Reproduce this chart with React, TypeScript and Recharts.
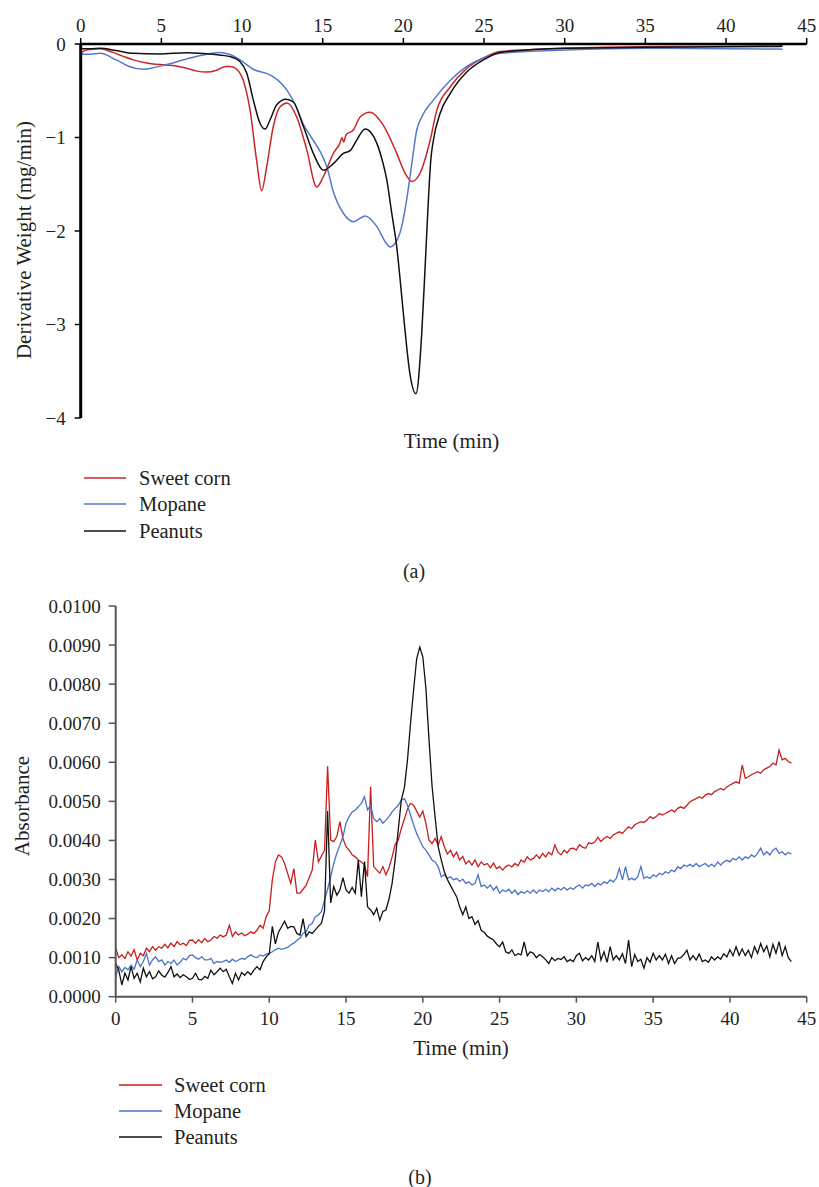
import React from 'react';
import { LineChart, Line, XAxis, YAxis } from 'recharts';

const FONT = '"Liberation Serif", "Times New Roman", serif';
const TEXT = '#231f20';

const RED_A = '#C8282A';
const BLUE_A = '#5478CC';
const BLACK = '#111111';
const RED_B = '#C81E1E';
const BLUE_B = '#4A72C6';

// ---------- Chart (a): derivative weight (mg/min) vs time (min) ----------
const A_X_TICKS = [0, 5, 10, 15, 20, 25, 30, 35, 40, 45];
const A_Y_TICKS = [-4, -3, -2, -1, 0];

const A_SWEET_T = [0, 0.05, 0.5, 1.2, 2, 2.6, 3.26, 4, 4.9, 5.7, 6.57, 7.2, 7.8, 8.43, 9.0, 9.3, 9.67, 10.08, 10.5, 10.9, 11.22, 11.53, 11.94, 12.36, 12.8, 13.39, 14.01, 14.63, 15.04, 15.66, 16.07, 16.2, 16.3, 16.45, 16.9, 17.32, 17.94, 18.76, 19.59, 20.1, 20.52, 21.04, 21.66, 22.07, 22.9, 23.93, 24.96, 26, 28, 30, 35, 40, 43.5];
const A_SWEET_V = [-0.35, -0.09, -0.06, -0.05, -0.09, -0.13, -0.17, -0.2, -0.22, -0.23, -0.26, -0.29, -0.3, -0.28, -0.24, -0.24, -0.27, -0.39, -0.71, -1.24, -1.57, -1.31, -0.88, -0.67, -0.63, -0.78, -1.13, -1.53, -1.42, -1.17, -1.06, -1.0, -1.05, -0.97, -0.92, -0.78, -0.73, -0.87, -1.17, -1.38, -1.47, -1.38, -1.03, -0.71, -0.46, -0.26, -0.15, -0.08, -0.06, -0.046, -0.03, -0.025, -0.02];

const A_MOPANE_T = [0, 0.6, 1.2, 2.2, 3.0, 3.89, 4.6, 5.33, 6.57, 7.8, 8.63, 9.2, 9.88, 10.7, 11.74, 12.3, 12.77, 13.3, 13.8, 14.3, 14.84, 15.25, 15.66, 16.28, 16.9, 17.63, 18.35, 18.97, 19.17, 19.6, 19.9, 20.2, 20.5, 20.83, 21.14, 21.86, 22.9, 23.93, 24.96, 26, 30, 35, 40, 43.5];
const A_MOPANE_V = [-0.11, -0.11, -0.1, -0.17, -0.24, -0.27, -0.25, -0.22, -0.16, -0.11, -0.09, -0.11, -0.17, -0.27, -0.33, -0.4, -0.49, -0.65, -0.86, -1.0, -1.15, -1.31, -1.58, -1.81, -1.9, -1.84, -1.95, -2.14, -2.17, -2.1, -1.95, -1.67, -1.31, -0.92, -0.78, -0.6, -0.39, -0.24, -0.15, -0.1, -0.064, -0.046, -0.05, -0.055];

const A_PEANUT_T = [0, 0.6, 1.2, 2.2, 3.26, 4.9, 6.57, 8.22, 9.26, 9.88, 10.29, 10.7, 11.12, 11.43, 11.74, 12.15, 12.73, 13.18, 13.8, 14.42, 15.04, 15.66, 16.28, 16.7, 17.1, 17.63, 18.0, 18.35, 18.7, 18.97, 19.28, 19.59, 19.8, 20.1, 20.4, 20.78, 21.14, 21.35, 21.55, 21.7, 21.86, 22.28, 22.9, 23.93, 24.96, 26, 30, 35, 40, 43.5];
const A_PEANUT_V = [-0.05, -0.05, -0.046, -0.07, -0.1, -0.107, -0.093, -0.11, -0.135, -0.19, -0.31, -0.6, -0.85, -0.91, -0.81, -0.65, -0.59, -0.62, -0.88, -1.17, -1.35, -1.28, -1.17, -1.14, -1.03, -0.91, -0.95, -1.06, -1.25, -1.45, -1.81, -2.17, -2.52, -3.06, -3.52, -3.74, -3.09, -2.38, -1.67, -1.24, -1.03, -0.74, -0.53, -0.3, -0.17, -0.09, -0.046, -0.035, -0.03, -0.025];

// ---------- Chart (b): absorbance vs time (min), sampled every 0.2 min ----------
const B_X_TICKS = [0, 5, 10, 15, 20, 25, 30, 35, 40, 45];
const B_Y_TICKS = [0, 0.001, 0.002, 0.003, 0.004, 0.005, 0.006, 0.007, 0.008, 0.009, 0.01];
const B_T_START = 0;
const B_T_STEP = 0.2;
const ABS_UNIT = 0.0001; // values below are in units of 0.0001

const B_SWEET = [
  12.4, 10.0, 10.7, 9.8, 11.5, 10.4, 12.0, 9.4, 11.1, 10.5,
  12.4, 11.5, 12.8, 11.9, 12.8, 12.4, 13.4, 12.5, 13.7, 12.8,
  14.1, 13.3, 13.7, 13.1, 14.4, 14.5, 13.7, 14.6, 13.8, 14.9,
  14.1, 14.5, 15.4, 15.0, 15.8, 15.3, 15.8, 18.3, 15.4, 16.6,
  15.8, 16.3, 15.6, 16.0, 16.6, 16.2, 17.0, 18.3, 17.5, 20.5,
  22.0, 29.9, 34.5, 36.3, 35.8, 34.1, 31.5, 29.0, 32.8, 26.5,
  26.5, 27.5, 28.5, 30.5, 32.4, 40.1, 34.5, 36.0, 37.5, 59.0,
  40.1, 39.7, 41.0, 44.8, 40.5, 38.4, 37.5, 36.3, 35.8, 35.0,
  34.5, 33.7, 30.7, 53.7, 33.3, 32.4, 31.6, 33.3, 31.2, 33.0,
  35.8, 39.0, 40.1, 43.0, 45.5, 48.0, 49.5, 49.0, 47.5, 46.0,
  47.5, 44.4, 40.1, 39.2, 40.5, 38.8, 41.0, 38.4, 36.5, 37.5,
  35.8, 37.0, 35.0, 35.9, 34.0, 34.8, 33.7, 35.0, 33.3, 34.5,
  33.7, 34.1, 33.0, 34.2, 32.8, 33.3, 32.4, 33.3, 33.7, 33.2,
  34.1, 33.5, 35.0, 34.4, 35.8, 35.0, 35.4, 36.3, 35.4, 36.7,
  35.8, 37.0, 36.3, 38.8, 37.0, 36.3, 37.5, 36.8, 37.9, 38.0,
  37.5, 38.9, 38.3, 38.0, 39.4, 39.2, 39.6, 40.8, 39.7, 40.5,
  41.0, 40.5, 41.4, 41.8, 42.2, 41.8, 42.7, 43.5, 43.0, 44.0,
  44.4, 44.8, 44.6, 45.2, 46.1, 45.6, 46.1, 46.9, 46.5, 46.9,
  47.3, 47.8, 47.3, 48.2, 48.6, 48.2, 49.0, 49.9, 50.3, 50.7,
  51.2, 50.8, 51.6, 52.0, 51.7, 52.5, 52.9, 53.3, 52.9, 53.7,
  54.2, 54.6, 55.0, 54.6, 59.3, 55.9, 56.3, 56.8, 57.2, 57.6,
  57.2, 58.1, 58.5, 58.9, 59.8, 59.3, 63.1, 60.6, 61.0, 60.2,
  59.8,
];

const B_MOPANE = [
  5.1, 7.7, 6.4, 7.5, 6.9, 8.1, 7.0, 9.4, 7.7, 9.0,
  11.1, 8.1, 9.4, 10.2, 9.0, 9.4, 8.1, 9.0, 8.5, 9.4,
  8.1, 8.8, 9.8, 9.4, 10.5, 10.7, 10.0, 9.6, 10.2, 9.4,
  9.4, 9.8, 8.5, 9.0, 8.8, 9.0, 9.4, 8.8, 9.6, 9.0,
  9.4, 9.8, 9.6, 10.2, 10.7, 10.2, 10.0, 10.7, 10.4, 10.9,
  11.1, 11.5, 12.0, 12.4, 12.1, 12.4, 12.6, 13.3, 13.7, 14.4,
  15.0, 16.2, 16.6, 18.3, 18.8, 20.5, 20.9, 21.8, 24.7, 27.5,
  30.7, 34.1, 36.7, 38.8, 41.0, 44.4, 46.1, 47.3, 47.8, 48.6,
  49.5, 51.2, 47.8, 49.0, 45.6, 44.8, 45.6, 44.4, 45.2, 46.1,
  47.3, 48.2, 49.0, 50.3, 50.7, 49.0, 46.5, 44.0, 41.8, 40.1,
  38.4, 37.5, 36.3, 35.0, 34.5, 33.3, 30.7, 31.2, 30.3, 30.7,
  29.9, 30.3, 29.5, 30.1, 29.0, 29.4, 28.6, 29.0, 31.2, 28.2,
  28.6, 27.8, 28.6, 27.3, 28.2, 26.5, 27.3, 26.9, 27.5, 26.5,
  27.3, 26.1, 26.9, 26.5, 27.1, 26.5, 27.3, 26.5, 27.3, 26.9,
  27.5, 26.9, 27.8, 27.1, 27.8, 27.3, 28.0, 27.3, 27.9, 27.5,
  28.2, 28.6, 27.8, 28.6, 28.4, 29.0, 28.2, 29.0, 28.6, 29.4,
  29.0, 29.9, 29.4, 30.3, 32.8, 29.9, 33.3, 29.9, 30.3, 29.9,
  30.7, 33.3, 30.3, 30.7, 30.3, 31.2, 30.7, 31.6, 31.2, 32.0,
  31.6, 32.4, 32.0, 33.3, 32.8, 33.7, 33.3, 33.9, 33.3, 34.1,
  33.3, 33.7, 34.1, 33.3, 33.9, 33.3, 34.5, 33.7, 34.5, 34.9,
  34.5, 35.4, 35.0, 35.8, 35.0, 35.8, 35.4, 36.3, 35.8, 36.7,
  38.0, 36.3, 37.1, 36.3, 37.5, 38.0, 36.7, 37.1, 36.3, 36.9,
  36.5,
];

const B_PEANUT = [
  8.5, 6.8, 3.0, 6.0, 4.3, 7.7, 4.7, 6.0, 3.8, 7.3,
  5.1, 6.4, 4.6, 5.1, 6.6, 5.5, 5.0, 6.2, 7.7, 5.1,
  5.8, 4.9, 5.6, 5.1, 4.4, 4.7, 6.0, 4.4, 4.3, 5.2,
  4.7, 6.8, 5.6, 6.4, 7.3, 6.4, 7.0, 5.1, 3.4, 6.0,
  4.3, 6.2, 5.5, 6.4, 5.6, 6.8, 7.7, 6.9, 9.0, 10.2,
  11.0, 18.0, 13.5, 16.5, 17.9, 19.3, 17.5, 18.0, 17.9, 16.2,
  15.8, 20.0, 15.4, 16.6, 16.2, 17.1, 18.0, 18.8, 22.0, 47.5,
  24.0, 28.2, 26.0, 27.3, 30.5, 27.3, 26.5, 28.0, 26.5, 35.0,
  25.6, 34.6, 23.0, 22.2, 21.0, 22.6, 19.6, 21.8, 22.2, 25.0,
  29.0, 35.0, 42.7, 50.3, 53.5, 60.5, 70.0, 78.5, 86.5, 89.5,
  87.0, 79.0, 66.0, 54.0, 46.0, 38.4, 35.0, 32.0, 30.0, 28.5,
  27.0, 25.6, 23.0, 21.0, 23.0, 20.0, 20.5, 18.5, 19.5, 17.0,
  16.5, 15.5, 15.0, 14.5, 13.5, 12.8, 14.0, 11.5, 11.1, 12.0,
  10.5, 11.0, 10.7, 14.0, 10.5, 11.5, 11.1, 10.0, 10.8, 10.2,
  9.5, 8.5, 10.0, 9.2, 9.8, 9.5, 10.2, 9.0, 9.5, 9.0,
  10.5, 11.1, 9.2, 10.0, 9.4, 10.5, 9.0, 14.0, 9.4, 11.5,
  8.8, 12.8, 9.4, 10.5, 9.4, 11.0, 8.5, 14.5, 7.7, 10.8,
  9.0, 9.6, 7.3, 10.0, 8.8, 11.1, 9.4, 10.5, 9.4, 10.9,
  8.5, 10.5, 8.5, 9.8, 10.0, 10.8, 11.9, 9.4, 10.5, 9.4,
  10.9, 9.0, 9.4, 8.8, 10.2, 9.4, 10.2, 9.6, 11.0, 10.2,
  12.0, 10.5, 12.8, 10.6, 12.2, 10.5, 11.9, 10.0, 12.8, 11.1,
  13.6, 11.5, 13.0, 10.2, 13.4, 11.1, 14.1, 10.5, 12.8, 10.0,
  9.0,
];

const SERIES_NAMES = ['Sweet corn', 'Mopane', 'Peanuts'];

const pairs = (ts: number[], vs: number[]) => ts.map((t, i) => ({ t, v: vs[i] }));

const bRows = B_SWEET.map((s, i) => ({
  t: +(B_T_START + i * B_T_STEP).toFixed(2),
  sweet: s * ABS_UNIT,
  mopane: B_MOPANE[i] * ABS_UNIT,
  peanut: B_PEANUT[i] * ABS_UNIT,
}));

const fmtA = (v: number) => (v < 0 ? '\u2212' + Math.abs(v) : String(v));

const textStyle: React.CSSProperties = {
  position: 'absolute',
  fontFamily: FONT,
  color: TEXT,
  whiteSpace: 'nowrap',
  lineHeight: '24px',
};

function CenterText({ x, y, size, children, rotate }: { x: number; y: number; size: number; children: React.ReactNode; rotate?: boolean }) {
  return (
    <div
      style={{
        ...textStyle,
        left: x,
        top: y,
        fontSize: size,
        transform: `translate(-50%, -50%)${rotate ? ' rotate(-90deg)' : ''}`,
      }}
    >
      {children}
    </div>
  );
}

function LegendBlock({ x1, x2, tx, ys, colors }: { x1: number; x2: number; tx: number; ys: number[]; colors: string[] }) {
  return (
    <>
      {SERIES_NAMES.map((name, i) => (
        <React.Fragment key={name}>
          <svg style={{ position: 'absolute', left: x1, top: ys[i] - 2, overflow: 'visible' }} width={x2 - x1} height={4}>
            <line x1={0} x2={x2 - x1} y1={2} y2={2} stroke={colors[i]} strokeWidth={1.6} />
          </svg>
          <div style={{ ...textStyle, left: tx, top: ys[i] - 12, fontSize: 20.5 }}>{name}</div>
        </React.Fragment>
      ))}
    </>
  );
}

const tickStyle = { fill: TEXT, fontSize: 19, fontFamily: FONT };

export default function App() {
  return (
    <div style={{ position: 'absolute', left: 0, top: 0, width: 819, height: 1187, background: '#fff', overflow: 'hidden', fontFamily: FONT }}>
      <style>{`.recharts-text, .recharts-cartesian-axis-tick-value { font-family: ${FONT}; }`}</style>
      {/* Chart (a) */}
      <div style={{ position: 'absolute', left: 0, top: 0 }}>
        <LineChart width={819} height={440} margin={{ top: 0, right: 12.3, bottom: 22, left: 0 }}>
          <XAxis
            dataKey="t"
            type="number"
            orientation="top"
            domain={[0, 45]}
            ticks={A_X_TICKS}
            interval={0}
            height={44}
            allowDataOverflow
            axisLine={{ stroke: '#000', strokeWidth: 2.5 }}
            tickLine={{ stroke: '#000', strokeWidth: 1.5 }}
            tickSize={6}
            tickMargin={6}
            tick={tickStyle}
          />
          <YAxis
            type="number"
            domain={[-4, 0]}
            ticks={A_Y_TICKS}
            interval={0}
            width={80.7}
            allowDataOverflow
            axisLine={{ stroke: '#000', strokeWidth: 3 }}
            tickLine={{ stroke: '#000', strokeWidth: 1.5 }}
            tickSize={6}
            tickMargin={9}
            tickFormatter={fmtA}
            tick={tickStyle}
          />
          <Line data={pairs(A_SWEET_T, A_SWEET_V)} dataKey="v" name="Sweet corn" type="monotone" stroke={RED_A} strokeWidth={1.5} dot={false} isAnimationActive={false} />
          <Line data={pairs(A_MOPANE_T, A_MOPANE_V)} dataKey="v" name="Mopane" type="monotone" stroke={BLUE_A} strokeWidth={1.5} dot={false} isAnimationActive={false} />
          <Line data={pairs(A_PEANUT_T, A_PEANUT_V)} dataKey="v" name="Peanuts" type="monotone" stroke={BLACK} strokeWidth={1.5} dot={false} isAnimationActive={false} />
        </LineChart>
      </div>
      <CenterText x={24} y={240} size={21} rotate>Derivative Weight (mg/min)</CenterText>
      <CenterText x={451.5} y={441} size={21}>Time (min)</CenterText>
      <LegendBlock x1={84} x2={126} tx={139} ys={[478, 504, 530.5]} colors={[RED_A, BLUE_A, BLACK]} />
      <CenterText x={414} y={571} size={20}>(a)</CenterText>

      {/* Chart (b) */}
      <div style={{ position: 'absolute', left: 0, top: 580 }}>
        <LineChart width={819} height={460} data={bRows} margin={{ top: 26, right: 12.3, bottom: 0, left: 0 }}>
          <XAxis
            dataKey="t"
            type="number"
            domain={[0, 45]}
            ticks={B_X_TICKS}
            interval={0}
            height={43.3}
            axisLine={{ stroke: '#555', strokeWidth: 2 }}
            tickLine={{ stroke: '#555', strokeWidth: 1.5 }}
            tickSize={6}
            tickMargin={9}
            tick={tickStyle}
          />
          <YAxis
            type="number"
            domain={[0, 0.01]}
            ticks={B_Y_TICKS}
            interval={0}
            width={115.7}
            axisLine={{ stroke: '#555', strokeWidth: 2 }}
            tickLine={{ stroke: '#555', strokeWidth: 1.5 }}
            tickSize={7}
            tickMargin={8}
            tickFormatter={(v: number) => v.toFixed(4)}
            tick={tickStyle}
          />
          <Line dataKey="sweet" name="Sweet corn" type="linear" stroke={RED_B} strokeWidth={1.3} dot={false} isAnimationActive={false} />
          <Line dataKey="mopane" name="Mopane" type="linear" stroke={BLUE_B} strokeWidth={1.3} dot={false} isAnimationActive={false} />
          <Line dataKey="peanut" name="Peanuts" type="linear" stroke={BLACK} strokeWidth={1.3} dot={false} isAnimationActive={false} />
        </LineChart>
      </div>
      <CenterText x={22} y={806} size={21} rotate>Absorbance</CenterText>
      <CenterText x={461} y={1048} size={21}>Time (min)</CenterText>
      <LegendBlock x1={119} x2={162} tx={174} ys={[1085, 1111, 1137]} colors={[RED_B, BLUE_B, BLACK]} />
      <CenterText x={420} y={1177} size={20}>(b)</CenterText>
    </div>
  );
}
